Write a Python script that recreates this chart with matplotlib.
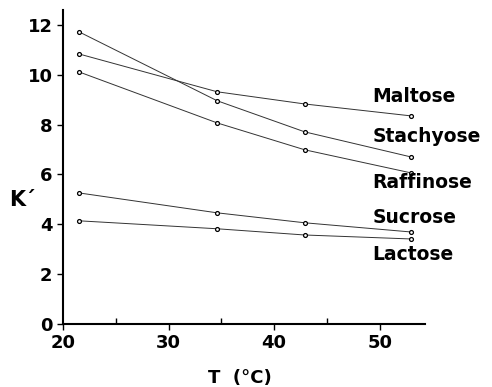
import matplotlib
matplotlib.use("Agg")
import matplotlib.pyplot as plt

plt.rcParams['font.family'] = ['DejaVu Sans']

temps = [21.5, 34.6, 42.9, 53.0]
maltose = [10.84, 9.32, 8.83, 8.35]
stachyose = [11.73, 8.96, 7.71, 6.70]
raffinose = [10.12, 8.07, 6.99, 6.06]
sucrose = [5.26, 4.46, 4.06, 3.69]
lactose = [4.14, 3.82, 3.57, 3.41]
names = ["Maltose", "Stachyose", "Raffinose", "Sucrose", "Lactose"]
label_y = [9.12, 7.51, 5.66, 4.26, 2.77]

fig = plt.figure(figsize=(4.92, 3.87), dpi=100)
ax = fig.add_axes([0.128, 0.163, 0.736, 0.811])

for s in [maltose, stachyose, raffinose, sucrose, lactose]:
    ax.plot(temps, s, color='#333333', lw=0.7, marker='o', ms=2.8,
            mfc='white', mec='black', mew=0.9)

for n, yv in zip(names, label_y):
    ax.text(49.3, yv, n, fontsize=13.5, fontweight='bold', va='center', ha='left')

ax.set_xlim(20.2, 54.3)
ax.set_ylim(0, 12.6)
ax.set_xticks([20, 30, 40, 50])
ax.set_xticks([25, 35, 45], minor=True)
ax.set_yticks([0, 2, 4, 6, 8, 10, 12])
ax.tick_params(labelsize=13, length=4, width=1)
ax.tick_params(which='minor', direction='in', length=4, width=1)
for lab in ax.get_xticklabels() + ax.get_yticklabels():
    lab.set_fontweight('bold')
ax.spines['top'].set_visible(False)
ax.spines['right'].set_visible(False)
ax.spines['left'].set_linewidth(1.5)
ax.spines['bottom'].set_linewidth(1.5)

fig.text(240 / 492, 1 - 378 / 387, "T  (°C)", fontsize=13, fontweight='bold', ha='center', va='center')
fig.text(0.045, 1 - 200 / 387, "K´", fontsize=15, fontweight='bold', ha='center', va='center')

fig.savefig("out.png", dpi=100)
